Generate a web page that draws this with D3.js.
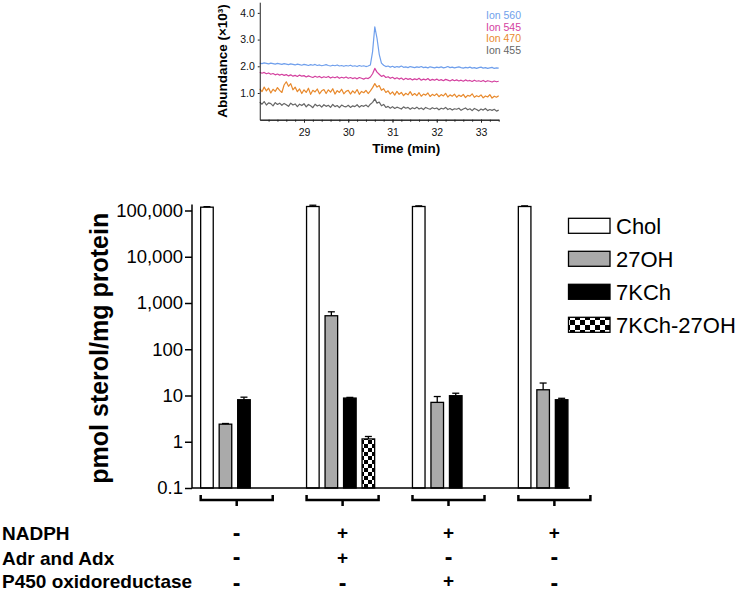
<!DOCTYPE html>
<html><head><meta charset="utf-8">
<script src="https://cdn.jsdelivr.net/npm/d3@7"></script>
<style>body{margin:0;background:#fff} svg{display:block}</style>
</head><body><svg id="c" width="740" height="596"></svg>
<script>
// ---------- Inset chromatogram data ----------
const traceStart = 28.0, traceStep = 0.05;
const ionNames = ["Ion 560", "Ion 545", "Ion 470", "Ion 455"];
const ionColors = ["#6f9fec", "#d4419f", "#e8892c", "#666666"];
const ion560 = [2.12,2.10,2.13,2.11,2.09,2.12,2.10,2.08,2.11,2.09,
2.07,2.10,2.08,2.06,2.09,2.07,2.05,2.08,2.06,2.04,
2.07,2.05,2.03,2.06,2.04,2.07,2.03,2.05,2.02,2.04,
2.06,2.03,2.01,2.04,2.02,2.05,2.01,2.03,2.00,2.03,
2.01,2.04,2.00,2.02,1.99,2.03,2.00,2.02,1.99,2.01,
2.05,2.55,3.48,3.05,2.45,2.12,2.04,1.99,2.01,1.97,
2.00,1.96,1.99,1.97,2.01,1.96,1.98,1.95,1.99,1.97,
1.95,1.98,1.96,1.99,1.95,1.97,1.94,1.98,1.96,1.94,
1.97,1.95,1.98,1.94,1.96,1.99,1.95,1.97,1.94,1.96,
1.98,1.95,1.93,1.96,1.94,1.97,1.93,1.95,1.92,1.95,
1.97,1.93,1.95,1.92,1.94,1.96,1.92,1.94,1.93];
const ion545 = [1.78,1.74,1.77,1.72,1.75,1.70,1.73,1.68,1.71,1.67,
1.70,1.66,1.69,1.64,1.68,1.63,1.66,1.62,1.67,1.63,
1.65,1.60,1.64,1.61,1.58,1.63,1.59,1.62,1.57,1.61,
1.58,1.62,1.56,1.60,1.57,1.61,1.55,1.59,1.56,1.60,
1.55,1.58,1.54,1.57,1.53,1.58,1.55,1.52,1.56,1.54,
1.60,1.72,1.92,1.78,1.70,1.62,1.66,1.58,1.61,1.55,
1.59,1.53,1.57,1.52,1.56,1.50,1.55,1.51,1.54,1.49,
1.53,1.50,1.55,1.48,1.52,1.49,1.54,1.47,1.51,1.48,
1.52,1.47,1.50,1.46,1.51,1.48,1.45,1.50,1.46,1.49,
1.45,1.48,1.44,1.49,1.45,1.47,1.43,1.48,1.44,1.46,
1.43,1.47,1.42,1.46,1.44,1.41,1.45,1.42,1.44];
const ion470 = [1.15,1.05,1.22,1.08,1.18,1.00,1.14,1.06,1.20,1.10,
1.02,1.30,1.42,1.25,1.35,1.12,1.22,1.05,1.15,0.98,
1.12,1.02,1.18,0.95,1.10,1.04,1.15,0.97,1.08,1.13,
0.98,1.12,1.03,1.16,0.96,1.09,1.02,1.14,0.97,1.06,
1.10,0.96,1.08,1.00,1.13,0.95,1.06,1.01,1.10,0.98,
1.08,1.20,1.35,1.22,1.28,1.10,1.16,1.02,1.08,0.96,
1.04,0.92,1.06,0.95,1.02,0.90,0.99,0.93,1.05,0.91,
0.98,0.90,1.01,0.88,0.96,0.92,1.00,0.87,0.95,0.90,
0.97,0.86,0.94,0.89,0.99,0.85,0.93,0.88,0.96,0.84,
0.92,0.87,0.95,0.83,0.91,0.88,0.97,0.84,0.90,0.86,
0.93,0.82,0.89,0.85,0.94,0.81,0.88,0.84,0.90];
const ion455 = [0.66,0.58,0.68,0.55,0.63,0.60,0.52,0.64,0.57,0.62,
0.54,0.61,0.56,0.50,0.62,0.55,0.59,0.49,0.58,0.53,
0.60,0.48,0.57,0.52,0.45,0.58,0.51,0.55,0.47,0.56,
0.50,0.54,0.46,0.57,0.49,0.53,0.45,0.55,0.50,0.48,
0.54,0.46,0.52,0.49,0.56,0.47,0.53,0.50,0.55,0.48,
0.58,0.65,0.78,0.62,0.66,0.52,0.57,0.46,0.50,0.43,
0.49,0.42,0.47,0.44,0.40,0.48,0.43,0.46,0.39,0.45,
0.41,0.47,0.40,0.44,0.38,0.46,0.42,0.39,0.45,0.41,
0.44,0.37,0.43,0.40,0.46,0.38,0.42,0.36,0.41,0.39,
0.43,0.35,0.40,0.44,0.37,0.41,0.34,0.42,0.38,0.33,
0.40,0.36,0.42,0.34,0.38,0.35,0.39,0.32,0.36];
const insetXTicks = [29, 30, 31, 32, 33];
const insetYTicks = [1.0, 2.0, 3.0, 4.0];

// ---------- Bar chart data ----------
const groups = ["A", "B", "C", "D"];
const seriesNames = ["Chol", "27OH", "7KCh", "7KCh-27OH"];
const cholValues = [118000, 122000, 122000, 122000];
const cholErrors = [3000, 8000, 4000, 4000];
const oh27Values = [2.4, 530, 7.1, 13.3];
const oh27Errors = [0.08, 115, 2.4, 5.3];
const kchValues = [8.1, 8.8, 9.9, 8.1];
const kchErrors = [1.1, 0.3, 1.3, 0.6];
const kch27Values = [null, 1.15, null, null];
const kch27Errors = [null, 0.15, null, null];
const yTickValues = [0.1, 1, 10, 100, 1000, 10000, 100000];
const yTickLabels = ["0.1", "1", "10", "100", "1,000", "10,000", "100,000"];

// ---------- Condition table ----------
const conditionLabels = ["NADPH", "Adr and Adx", "P450 oxidoreductase"];
const nadphRow = ["-", "+", "+", "+"];
const adrAdxRow = ["-", "+", "-", "-"];
const p450Row = ["-", "-", "+", "-"];

const F = '"Liberation Sans", Arial, Helvetica, sans-serif';
const svg = d3.select("#c");

// patterns
const defs = svg.append("defs");
const pat = defs.append("pattern").attr("id", "chk").attr("patternUnits", "userSpaceOnUse")
  .attr("width", 8).attr("height", 8);
pat.append("rect").attr("width", 8).attr("height", 8).attr("fill", "#fff");
pat.append("rect").attr("width", 4).attr("height", 4).attr("fill", "#000");
pat.append("rect").attr("x", 4).attr("y", 4).attr("width", 4).attr("height", 4).attr("fill", "#000");
const pat2 = defs.append("pattern").attr("id", "chkL").attr("patternUnits", "userSpaceOnUse")
  .attr("width", 10).attr("height", 10);
pat2.append("rect").attr("width", 10).attr("height", 10).attr("fill", "#fff");
pat2.append("rect").attr("width", 5).attr("height", 5).attr("fill", "#000");
pat2.append("rect").attr("x", 5).attr("y", 5).attr("width", 5).attr("height", 5).attr("fill", "#000");

// ================= INSET =================
const ix = d3.scaleLinear().domain([28, 33.4]).range([259.75, 498.7]);
const iy = d3.scaleLinear().domain([0, 4.4]).range([119.7, 2.2]);
const inset = svg.append("g");
const traces = [ion560, ion545, ion470, ion455];
const line = d3.line().x((d, i) => ix(traceStart + i * traceStep)).y(d => iy(d));
traces.forEach((tr, k) => {
  inset.append("path").datum(tr).attr("d", line).attr("fill", "none")
    .attr("stroke", ionColors[k]).attr("stroke-width", 1.2).attr("stroke-linejoin", "round");
});
const minorTicks = d3.range(28.2, 33.41, 0.2);
const xMinor = inset.append("g").attr("transform", `translate(0,${iy(0)})`)
  .call(d3.axisBottom(ix).tickValues(minorTicks).tickSize(2).tickSizeOuter(0).tickFormat(""));
const xAx = inset.append("g").attr("transform", `translate(0,${iy(0)})`)
  .call(d3.axisBottom(ix).tickValues(insetXTicks).tickSize(3).tickSizeOuter(0).tickPadding(6).tickFormat(d3.format("d")));
const yAx = inset.append("g").attr("transform", `translate(${ix(28)},0)`)
  .call(d3.axisLeft(iy).tickValues(insetYTicks).tickSize(2).tickSizeOuter(0).tickPadding(3).tickFormat(d3.format(".1f")));
[xMinor, xAx, yAx].forEach(a => {
  a.selectAll("path,line").attr("stroke", "#222").attr("stroke-width", 1);
  a.selectAll("text").attr("font-family", F).attr("font-size", 10.5).attr("fill", "#111");
});
inset.append("text").attr("x", (ix(28) + ix(33.4)) / 2 + 27).attr("y", 153)
  .attr("text-anchor", "middle").attr("font-family", F).attr("font-weight", "bold")
  .attr("font-size", 13.5).text("Time (min)");
inset.append("text").attr("transform", `translate(227,${(iy(0) + iy(4.4)) / 2}) rotate(-90)`)
  .attr("text-anchor", "middle").attr("font-family", F).attr("font-weight", "bold")
  .attr("font-size", 13.5).text("Abundance (\u00d710\u00b3)");
ionNames.forEach((n, k) => {
  inset.append("text").attr("x", 486).attr("y", 19 + k * 11.5)
    .attr("font-family", F).attr("font-size", 10.5).attr("fill", ionColors[k]).text(n);
});

// ================= BAR CHART =================
const y = d3.scaleLog().domain([0.1, 100000]).range([488, 210.5]);
const gx = d3.scaleBand().domain(groups).range([197.7, 589.4]).paddingInner(0.301).paddingOuter(0);
const sx = d3.scaleBand().domain(seriesNames).range([0, gx.bandwidth()]).paddingInner(0.32).paddingOuter(0.16);
const fills = ["#ffffff", "#aaaaaa", "#000000", "url(#chk)"];
const legendFills = ["#ffffff", "#aaaaaa", "#000000", "url(#chkL)"];
const allVals = [cholValues, oh27Values, kchValues, kch27Values];
const allErrs = [cholErrors, oh27Errors, kchErrors, kch27Errors];

const bars = [];
groups.forEach((g, gi) => {
  seriesNames.forEach((s, si) => {
    const v = allVals[si][gi];
    if (v != null) bars.push({ g, s, si, v, e: allErrs[si][gi] });
  });
});
const chart = svg.append("g");
chart.selectAll("rect.bar").data(bars).join("rect").attr("class", "bar")
  .attr("x", d => gx(d.g) + sx(d.s)).attr("y", d => y(d.v))
  .attr("width", sx.bandwidth()).attr("height", d => y(0.1) - y(d.v))
  .attr("fill", d => fills[d.si]).attr("stroke", "#000").attr("stroke-width", 1.3);
// error bars
bars.forEach(d => {
  const cx = gx(d.g) + sx(d.s) + sx.bandwidth() / 2;
  chart.append("line").attr("x1", cx).attr("x2", cx).attr("y1", y(d.v)).attr("y2", y(d.v + d.e))
    .attr("stroke", "#000").attr("stroke-width", 1.3);
  chart.append("line").attr("x1", cx - 3.5).attr("x2", cx + 3.5).attr("y1", y(d.v + d.e)).attr("y2", y(d.v + d.e))
    .attr("stroke", "#000").attr("stroke-width", 1.3);
});
// y axis
const axisX = 192;
const yAxis = chart.append("g").attr("transform", `translate(${axisX},0)`)
  .call(d3.axisLeft(y).tickValues(yTickValues).tickFormat((d, i) => yTickLabels[i]).tickSize(7).tickPadding(2).tickSizeOuter(0));
yAxis.select(".domain").remove();
yAxis.selectAll("line").attr("stroke", "#000").attr("stroke-width", 1.5);
yAxis.selectAll("text").attr("font-family", F).attr("font-size", 18.5).attr("fill", "#000");
chart.append("line").attr("x1", axisX).attr("x2", axisX).attr("y1", y(100000) - 6).attr("y2", y(0.1))
  .attr("stroke", "#000").attr("stroke-width", 1.5);
// baseline
const lastBar = gx(groups[3]) + sx(seriesNames[2]) + sx.bandwidth();
chart.append("line").attr("x1", axisX).attr("x2", lastBar + 2).attr("y1", y(0.1)).attr("y2", y(0.1))
  .attr("stroke", "#000").attr("stroke-width", 1.5);
// y label
chart.append("text").attr("transform", `translate(108,${(y(0.1) + y(100000)) / 2 - 1}) rotate(-90)`)
  .attr("text-anchor", "middle").attr("font-family", F).attr("font-weight", "bold")
  .attr("font-size", 25).text("pmol sterol/mg protein");
// brackets
const yb = 500;
groups.forEach(g => {
  const x0 = gx(g) + 3, x1 = gx(g) + gx.bandwidth() + 1, cx = (x0 + x1) / 2;
  chart.append("path").attr("d", `M${x0},${yb - 5}V${yb}H${x1}V${yb - 5}M${cx},${yb}V${yb + 6}`)
    .attr("fill", "none").attr("stroke", "#000").attr("stroke-width", 2.5);
});
// legend
seriesNames.forEach((s, i) => {
  const ly = 218.3 + i * 33;
  chart.append("rect").attr("x", 568.5).attr("y", ly).attr("width", 41.5).attr("height", 15)
    .attr("fill", legendFills[i]).attr("stroke", "#000").attr("stroke-width", 1.3);
  chart.append("text").attr("x", 616).attr("y", ly + 7.5).attr("dy", "0.36em")
    .attr("font-family", F).attr("font-size", 22).text(s);
});
// condition table
const rows = [nadphRow, adrAdxRow, p450Row];
const rowBase = [540, 564.5, 588];
conditionLabels.forEach((lab, r) => {
  chart.append("text").attr("x", 2).attr("y", rowBase[r]).attr("font-family", F)
    .attr("font-weight", "bold").attr("font-size", 19).text(lab);
  rows[r].forEach((sym, gi) => {
    const g = groups[gi];
    const cx = (gx(g) + 3 + gx(g) + gx.bandwidth() + 1) / 2;
    const isDash = sym !== "+";
    chart.append("text").attr("x", cx)
      .attr("y", rowBase[r] + (isDash ? (r === 2 ? 2.5 : 0.5) : -1))
      .attr("text-anchor", "middle").attr("font-family", F).attr("font-weight", "bold")
      .attr("font-size", isDash ? 23 : 19).text(sym);
  });
});
</script></body></html>
